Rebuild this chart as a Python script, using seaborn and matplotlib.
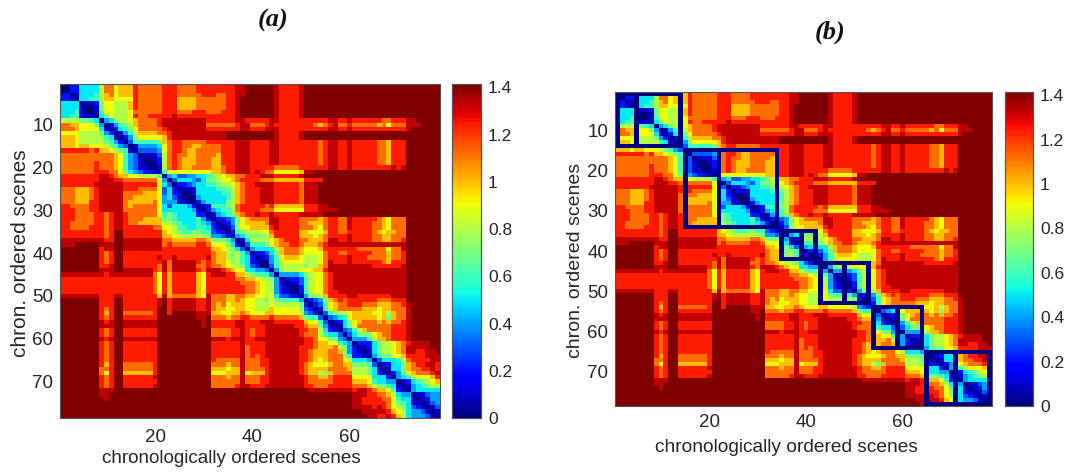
import numpy as np
import pandas as pd
import matplotlib
matplotlib.use('Agg')
import matplotlib.pyplot as plt
import seaborn as sns

# upper triangle of the distance matrix, one char per scene (see level_values)
# groups of ten columns, missing columns at row end = e
scene_rows = [
    "002255558b b9aaacbbbb bcccbbbbcc ccccccddee eeeedccccd",
    ".02255558b b9aaacbbbb bcccbbbbcc ccccccddee eeeedccccd",
    "..0155568a b9aaacbbbb bcccbbbbbc ccbbccddee eeeedccccd",
    "...055668a a9999cbbbb bcccaaaabb bbbbccdeee eeeedccccd",
    "....011279 9888acbbbb bcccaaaabb bbbbccdeee eeeedccccd",
    ".....00179 9888acbbbb bcccaaaabb bbbbccdeee eeeedccccd",
    "......0169 98889bbbbb bcccbbbccc bbbcccdeee eeeedccccd",
    ".......057 98889cbbcc cccdcccccc ccccccdeee eeeedccccd",
    "........04 57889abbbb cddddddddd ccccccddcc cccddccccc cccccddccd ccccccbbcc cdde",
    ".........0 14678abbbb cddddddddd bbbbbbcddb bbcdcccccc ccbabcdbbc bbbbbab9bb bddd",
    ".......... 025679bbbb bcdddddddd cccccccddc ccdddccccc cccccddccd cccccccccc cd",
    ".......... .01468aaaa bbcddddddd ddddeeeeee eeeedccccd",
    ".......... ..02479999 9acddddddd ddddeeeeee eeeedccccd",
    ".......... ...0366666 7abccbbbbb ccccccdddc cccddccccc cccbcddccd cccccbbacc c",
    ".......... ....014444 59bccbbaab bbbcccdddc cccddccccc cccbcddccd cccccbbacc c",
    ".......... .....03333 49bccbaabb bbbcccdddc cccddccccc cccbcddccd cccccbbacc c",
    ".......... ......0111 38bcbbaabb bbacccdddc cccddccccc cccbcddccd cccccbbacc c",
    ".......... .......001 28bcbaaabb baacccdddc cccddccccc cccbcddccd cccccbbacc c",
    ".......... ........00 28bcbaaabb baacccdddc cccddccccc cccbcddccd cccccbbacc c",
    ".......... .........0 18bcbaabbb baabccdddc ccccbbbbbc cccccddccd ccccccccdc d",
    ".......... .......... 0699999999 9aabccdddc dcbb99999a dd",
    ".......... .......... .045334455 6789aabbcc cdddcccccd",
    ".......... .......... ..03555435 77899abccc cbbbaaaaaa cccc",
    ".......... .......... ...0223455 667889abcc ddddcccccb ddd",
    ".......... .......... ....011155 556678abcc cdddcccccb ddd",
    ".......... .......... .....00155 555668abcc cdddcccccb ddd",
    ".......... .......... ......0045 555568abcc cdddcccccb ddd",
    ".......... .......... .......024 555578abcc cdddcccccb ddd",
    ".......... .......... ........01 266678bccc ccbcaaaaaa cccdd",
    ".......... .......... .........0 245668bccc cbbb999999 cccdddd",
    ".......... .......... .......... 014567abcc dccdcccccd dddd",
    ".......... .......... .......... .0223479ab bbbddccccb bbbabccbbd cccccba9bb b",
    ".......... .......... .......... ..012479aa aabddccccb baaabccbbd ccccbba9bb b",
    ".......... .......... .......... ...013799a aaacdccccb bba9bccbbd ccccbba9bb b",
    ".......... .......... .......... ....026788 899bccccca a999accbbc ccccba9aab b",
    ".......... .......... .......... .....04577 778accccca aa9abccccd ccccbbaabb b",
    ".......... .......... .......... ......0158 8889abcccb baaabddccd ccccbbaabb c",
    ".......... .......... .......... .......036 6679abbccb aaabcddddd dddddddddd d",
    ".......... .......... .......... ........04 55558abbba 999acccccc cbbbbbb9bb d",
    ".......... .......... .......... .........0 22357abbba 9999bccbbc ccccbbbabb c",
    ".......... .......... .......... .......... 012469aaa9 8889bccccd cccbbbbabb c",
    ".......... .......... .......... .......... .004689999 8889bdcccd ccccccbacc c",
    ".......... .......... .......... .......... ..03688888 788abddddd ddddcccccc d",
    ".......... .......... .......... .......... ...0478889 99aacddddd dddddddddd d",
    ".......... .......... .......... .......... ....044445 7899bcdddd dddddddddd d",
    ".......... .......... .......... .......... .....01223 6899bcdddd dddddddddd d",
    ".......... .......... .......... .......... ......0113 6899bcdddd dddddddddd d",
    ".......... .......... .......... .......... .......002 6899bcdddd dddddddddd d",
    ".......... .......... .......... .......... ........02 6899bccddd dddddddddd d",
    ".......... .......... .......... .......... .........0 4778accccd dcccccccdd d",
    ".......... .......... .......... .......... .......... 02347abcbc cccccbbbcc c",
    ".......... .......... .......... .......... .......... .02369abbc ccbbbaaabb cd",
    ".......... .......... .......... .......... .......... ..0269abbb bbaaa9aabb bd",
    ".......... .......... .......... .......... .......... ...0367889 aaaa99a8ab bd",
    ".......... .......... .......... .......... .......... ....034569 aaaaa9a7ab bd",
    ".......... .......... .......... .......... .......... .....01257 9abbbababb cd",
    ".......... .......... .......... .......... .......... ......0157 9bbbbbbbcc cd",
    ".......... .......... .......... .......... .......... .......034 68abbbbbcc cd",
    ".......... .......... .......... .......... .......... ........03 57779abbcc cd",
    ".......... .......... .......... .......... .......... .........0 44468aabcc cd",
    ".......... .......... .......... .......... .......... .......... 022257889a bcdddd",
    ".......... .......... .......... .......... .......... .......... .01257889a bddddd",
    ".......... .......... .......... .......... .......... .......... ..0157889a bddccdd",
    ".......... .......... .......... .......... .......... .......... ...0467799 accccddd",
    ".......... .......... .......... .......... .......... .......... ....035556 8bccccdd",
    ".......... .......... .......... .......... .......... .......... .....01255 7abccddc",
    ".......... .......... .......... .......... .......... .......... ......0155 7abbccdc",
    ".......... .......... .......... .......... .......... .......... .......024 69abbbcd",
    ".......... .......... .......... .......... .......... .......... ........04 568999ac",
    ".......... .......... .......... .......... .......... .......... .........0 1256789a",
    ".......... .......... .......... .......... .......... .......... .......... 01456788",
    ".......... .......... .......... .......... .......... .......... .......... .0455555",
    ".......... .......... .......... .......... .......... .......... .......... ..011344",
    ".......... .......... .......... .......... .......... .......... .......... ...01244",
    ".......... .......... .......... .......... .......... .......... .......... ....0134",
    ".......... .......... .......... .......... .......... .......... .......... .....013",
    ".......... .......... .......... .......... .......... .......... .......... ......01",
    ".......... .......... .......... .......... .......... .......... .......... .......0",
]
level_codes = "0123456789abcde"
level_values = [0, 0.1, 0.2, 0.3, 0.4, 0.5, 0.6, 0.7, 0.8, 0.9, 1.0, 1.12, 1.24, 1.33, 1.41]

# blocks of panel (b), first scene / split scene / last scene
block_first = [1, 15, 35, 43, 54, 65]
block_split = [5, 22, 39, 48, 59, 71]
block_last = [14, 34, 42, 53, 64, 78]

scene_ticks_y = [10, 20, 30, 40, 50, 60, 70]
scene_ticks_x = [20, 40, 60]
cbar_ticks = [0, 0.2, 0.4, 0.6, 0.8, 1, 1.2, 1.4]
cbar_labels = ["0", "0.2", "0.4", "0.6", "0.8", "1", "1.2", "1.4"]

n_scenes = len(scene_rows)
dist = np.zeros((n_scenes, n_scenes))
for i, row in enumerate(scene_rows):
    chars = row.replace(" ", "").ljust(n_scenes, "e")
    if len(chars) != n_scenes or chars[i] != "0":
        print("check row", i + 1, len(chars), chars[i])
    for j in range(i, n_scenes):
        dist[i, j] = level_values[level_codes.index(chars[j])]
        dist[j, i] = dist[i, j]

# panel (b) has the block frames burned in at the lowest value
dist_b = dist.copy()
for first, split, last in zip(block_first, block_split, block_last):
    a, s, b = first - 1, split - 1, last - 1
    dist_b[a, a:b + 1] = 0
    dist_b[b, a:b + 1] = 0
    dist_b[a:b + 1, a] = 0
    dist_b[a:b + 1, b] = 0
    dist_b[a:b + 1, s] = 0

sns.set_theme(style="white")
plt.rcParams['font.family'] = ['Liberation Sans', 'DejaVu Sans']

W, H = 1067, 474
jet = plt.get_cmap('jet', 128)


def px_axes(fig, x0, x1, y0, y1):
    return fig.add_axes([x0 / W, 1 - y1 / H, (x1 - x0) / W, (y1 - y0) / H])


def draw_panel(fig, data, box, cbox, xlab, ylab, xsize, ysize, xpad):
    ax = px_axes(fig, *box)
    cax = px_axes(fig, *cbox)
    sns.heatmap(pd.DataFrame(data), ax=ax, cbar_ax=cax, cmap=jet, vmin=0, vmax=1.414,
                xticklabels=False, yticklabels=False, rasterized=True)
    ax.set_xticks([t - 0.5 for t in scene_ticks_x], [str(t) for t in scene_ticks_x])
    ax.set_yticks([t - 0.5 for t in scene_ticks_y], [str(t) for t in scene_ticks_y])
    ax.tick_params(direction='in', length=3, width=0.6, color='#262626',
                   labelsize=13.5, labelcolor='#262626', pad=5,
                   top=True, right=True, bottom=True, left=True)
    ax.tick_params(axis='x', pad=xpad)
    ax.set_xlabel("chronologically ordered scenes", fontsize=xsize, color='#262626')
    ax.set_ylabel("chron. ordered scenes", fontsize=ysize, color='#262626', va='center')
    ax.xaxis.set_label_coords(*xlab)
    ax.yaxis.set_label_coords(*ylab)
    for s in ax.spines.values():
        s.set_visible(True)
        s.set_color('#555555')
        s.set_linewidth(0.8)
    cax.set_yticks(cbar_ticks, cbar_labels)
    cax.tick_params(direction='in', length=3, width=0.6, color='#262626',
                    labelsize=12.5, labelcolor='#262626', pad=5, right=True)
    for s in cax.spines.values():
        s.set_visible(True)
        s.set_color('#555555')
        s.set_linewidth(0.8)
    return ax


fig = plt.figure(figsize=(W / 100, H / 100), dpi=100)
draw_panel(fig, dist, (60, 440, 84, 418), (452, 481, 84, 418),
           (0.45, -0.095), (-0.105, 0.494), 13.6, 15, 8)
draw_panel(fig, dist_b, (615, 992, 92, 406), (1005, 1033, 92, 406),
           (0.456, -0.105), (-0.106, 0.465), 13.8, 14, 6)

title_font = dict(family=['Liberation Serif'], style='italic', weight='bold', fontsize=19,
                  color='#111111', ha='center', va='center')
fig.text(273 / W, 1 - 20 / H, "(a)", **title_font)
fig.text(830 / W, 1 - 32 / H, "(b)", **title_font)

plt.savefig('out.png', dpi=100)
